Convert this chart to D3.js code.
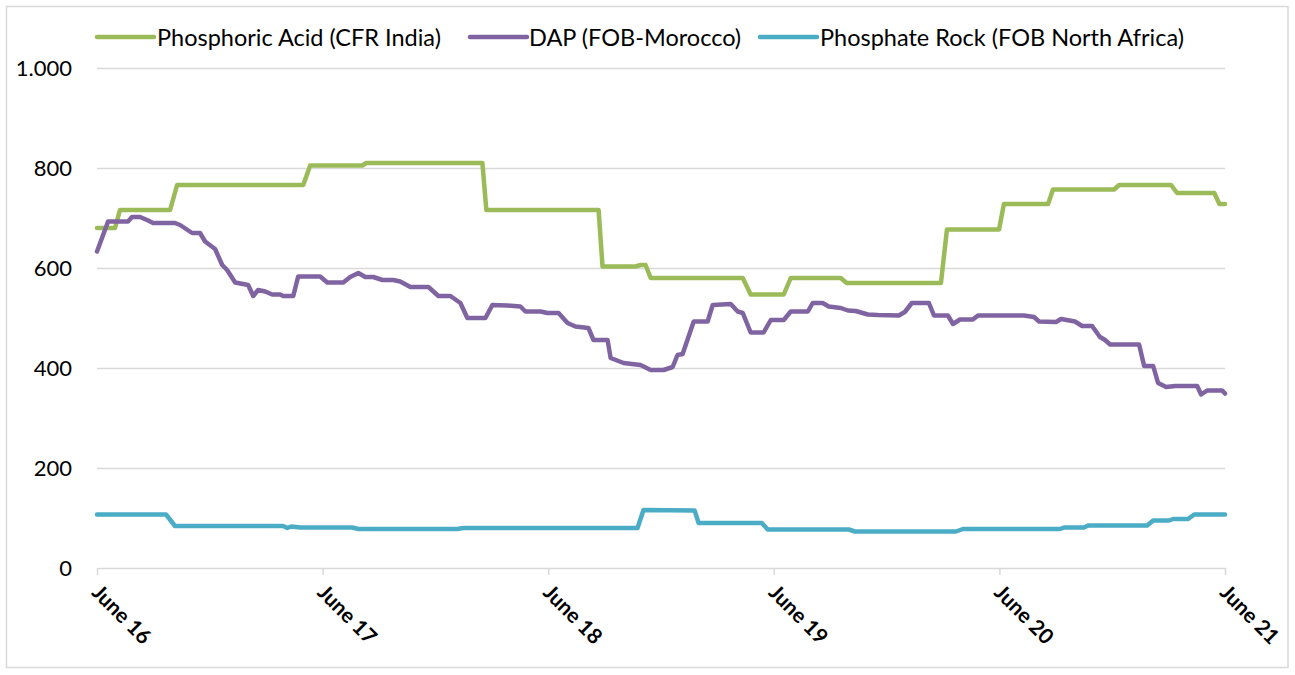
<!DOCTYPE html>
<html>
<head>
<meta charset="utf-8">
<script src="https://cdn.jsdelivr.net/npm/d3@7/dist/d3.min.js"></script>
<style>
  html, body { margin: 0; padding: 0; background: #fff; }
  svg { display: block; }
  text { font-family: Lato, "Open Sans", "DejaVu Sans", sans-serif; fill: #000; }
</style>
</head>
<body>
<svg id="chart" width="1295" height="675"></svg>
<script>
// ---- Data (x = months since June 2016, y = USD/t) ----
const seriesNames = ["Phosphoric Acid (CFR India)", "DAP (FOB-Morocco)", "Phosphate Rock (FOB North Africa)"];
const seriesColors = ["#9BBB59", "#8064A2", "#4BACC6"];

const phosphoricAcid = [
  [0, 680], [0.96, 680], [1.22, 716], [3.89, 716], [4.26, 766], [10.97, 766], [11.34, 805],
  [14.11, 805], [14.32, 810], [20.5, 810], [20.71, 716], [26.68, 716], [26.89, 603],
  [28.65, 603], [28.91, 606], [29.18, 606], [29.45, 580], [34.35, 580], [34.77, 547],
  [36.53, 547], [36.9, 580], [39.56, 580], [39.88, 570], [44.89, 570], [45.21, 677],
  [47.98, 677], [48.24, 728], [50.59, 728], [50.85, 757], [54.1, 757], [54.37, 766],
  [57.13, 766], [57.45, 750], [59.43, 750], [59.7, 728], [60, 728]
];

const dap = [
  [0, 633], [0.59, 693], [1.65, 693], [1.86, 702], [2.29, 702], [2.66, 696], [2.98, 690],
  [4.15, 690], [4.42, 686], [5.06, 670], [5.48, 670], [5.75, 653], [6.28, 638], [6.66, 606],
  [6.92, 596], [7.35, 571], [8.04, 566], [8.31, 544], [8.57, 556], [8.95, 553], [9.32, 547],
  [9.74, 547], [9.9, 544], [10.44, 544], [10.7, 583], [11.87, 583], [12.25, 571], [13.1, 571],
  [13.47, 582], [13.9, 590], [14.27, 582], [14.7, 582], [15.18, 576], [15.76, 576], [16.13, 573],
  [16.67, 562], [17.63, 562], [18.16, 544], [18.8, 544], [19.33, 530], [19.7, 500], [20.66, 500],
  [21.03, 526], [21.83, 525], [22.52, 523], [22.79, 513], [23.59, 513], [23.96, 510], [24.55, 510],
  [25.03, 490], [25.45, 483], [26.14, 480], [26.41, 456], [27.16, 456], [27.32, 420], [28.01, 410],
  [28.91, 406], [29.45, 396], [30.14, 396], [30.62, 402], [30.88, 426], [31.15, 428], [31.74, 493],
  [32.48, 493], [32.75, 526], [33.71, 528], [34.08, 513], [34.35, 510], [34.77, 471], [35.46, 471],
  [35.84, 496], [36.53, 496], [36.9, 513], [37.81, 513], [38.07, 530], [38.6, 530], [38.92, 523],
  [39.56, 520], [39.94, 515], [40.36, 514], [41.0, 507], [41.53, 506], [42.65, 505], [42.97, 512],
  [43.34, 530], [44.25, 530], [44.52, 505], [45.26, 505], [45.53, 488], [45.9, 497], [46.59, 497],
  [46.86, 505], [49.31, 505], [49.84, 502], [50.11, 493], [51.01, 492], [51.28, 498], [52.02, 493],
  [52.4, 484], [52.93, 484], [53.35, 462], [53.62, 456], [53.89, 447], [55.43, 447], [55.7, 404],
  [56.18, 404], [56.44, 370], [56.87, 362], [57.35, 364], [58.52, 364], [58.73, 347], [59.05, 355],
  [59.85, 355], [60, 349]
];

const phosphateRock = [
  [0, 107], [3.67, 107], [4.15, 84], [9.9, 84], [10.12, 80], [10.33, 83], [10.81, 81],
  [13.58, 81], [13.9, 78], [19.17, 78], [19.49, 80], [28.75, 80], [29.07, 116], [31.79, 115],
  [32.0, 90], [35.36, 90], [35.68, 77], [39.99, 77], [40.31, 73], [45.69, 73], [46.06, 78],
  [51.22, 78], [51.44, 81], [52.5, 81], [52.72, 85], [55.86, 85], [56.18, 95], [57.03, 95],
  [57.24, 98], [58.04, 98], [58.36, 107], [60, 107]
];

const xTickValues = [0, 12, 24, 36, 48, 60];
const xTickLabels = ["June 16", "June 17", "June 18", "June 19", "June 20", "June 21"];
const yTickValues = [0, 200, 400, 600, 800, 1000];
const yTickLabels = ["0", "200", "400", "600", "800", "1.000"];

// ---- Layout ----
const svg = d3.select("#chart");
const plot = { left: 97, right: 1225, top: 68, bottom: 568 };

svg.append("rect")
  .attr("x", 6.5).attr("y", 6.5).attr("width", 1281.5).attr("height", 661)
  .attr("fill", "#fff").attr("stroke", "#d9d9d9").attr("stroke-width", 1.5);

const x = d3.scaleLinear().domain([0, 60]).range([plot.left, plot.right]);
const y = d3.scaleLinear().domain([0, 1000]).range([plot.bottom, plot.top]);

// gridlines + y labels
const yAxis = d3.axisLeft(y)
  .tickValues(yTickValues)
  .tickSize(-(plot.right - plot.left))
  .tickPadding(25)
  .tickFormat((d, i) => yTickLabels[i]);
const gy = svg.append("g").attr("transform", `translate(${plot.left},0)`).call(yAxis);
gy.select(".domain").remove();
gy.selectAll(".tick line").attr("stroke", "#d9d9d9").attr("stroke-width", 1.5)
  .filter(d => d === 0).remove();
gy.selectAll(".tick text")
  .attr("font-size", 22).attr("fill", "#000")
  .style("font-family", "Lato, 'Open Sans', sans-serif");

// x axis
const xAxis = d3.axisBottom(x)
  .tickValues(xTickValues)
  .tickSize(7)
  .tickSizeOuter(0)
  .tickFormat((d, i) => xTickLabels[i]);
const gx = svg.append("g").attr("transform", `translate(0,${plot.bottom})`).call(xAxis);
gx.select(".domain").attr("stroke", "#d9d9d9").attr("stroke-width", 1.5);
gx.selectAll(".tick line").attr("stroke", "#d9d9d9").attr("stroke-width", 1.5);
gx.selectAll(".tick text")
  .attr("font-size", 21).attr("font-weight", "bold").attr("fill", "#000")
  .attr("text-anchor", "start")
  .attr("dy", null).attr("y", null)
  .attr("transform", "translate(-3,22) rotate(45)")
  .attr("dominant-baseline", "middle")
  .style("font-family", "Lato, 'Open Sans', sans-serif");

// lines
const line = d3.line().x(d => x(d[0])).y(d => y(d[1]));
const allSeries = [phosphoricAcid, dap, phosphateRock];
allSeries.forEach((s, i) => {
  svg.append("path")
    .datum(s)
    .attr("fill", "none")
    .attr("stroke", seriesColors[i])
    .attr("stroke-width", 4.5)
    .attr("stroke-linejoin", "round")
    .attr("stroke-linecap", "round")
    .attr("d", line);
});

// legend
const legendItems = [
  { lx: 97, tx: 157 },
  { lx: 470, tx: 529 },
  { lx: 760, tx: 820 }
];
const lg = svg.append("g");
legendItems.forEach((it, i) => {
  lg.append("line")
    .attr("x1", it.lx).attr("x2", it.lx + 57)
    .attr("y1", 37).attr("y2", 37)
    .attr("stroke", seriesColors[i]).attr("stroke-width", 4.5).attr("stroke-linecap", "round");
  lg.append("text")
    .attr("x", it.tx).attr("y", 37)
    .attr("dominant-baseline", "central")
    .attr("font-size", 23.5)
    .text(seriesNames[i]);
});
</script>
</body>
</html>
